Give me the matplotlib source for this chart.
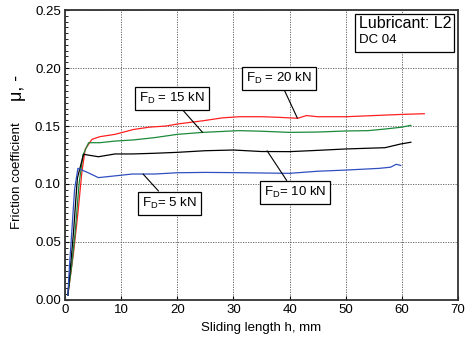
import matplotlib
matplotlib.use("Agg")
import matplotlib.pyplot as plt
from matplotlib.ticker import MultipleLocator, FormatStrFormatter

plt.rcParams['font.family'] = ['Liberation Sans', 'DejaVu Sans']
plt.rcParams['mathtext.fontset'] = 'custom'
plt.rcParams['mathtext.rm'] = 'Liberation Sans'
plt.rcParams['mathtext.it'] = 'Liberation Sans:italic'

# sliding length h (mm) and friction coefficient for each normal force
h_20 = [0.5, 1.5, 2.3, 3.0, 3.6, 4.8, 6.2, 8.9, 12.2, 15, 18, 20, 24.7, 28, 31,
        35, 38, 40, 41.5, 43, 45, 50, 55, 60, 64]
mu_20 = [0.004, 0.04, 0.075, 0.11, 0.130, 0.1385, 0.1408, 0.1428, 0.147, 0.149,
         0.150, 0.1517, 0.1546, 0.157, 0.158, 0.158, 0.1575, 0.157, 0.1567, 0.159,
         0.158, 0.158, 0.159, 0.160, 0.1606]

h_15 = [0.5, 1.2, 1.8, 2.5, 3.2, 4.2, 6.2, 8.9, 12.2, 16, 20, 24.5, 31, 35, 40,
        45, 50, 54, 57, 60, 61.6]
mu_15 = [0.004, 0.03, 0.0575, 0.10, 0.125, 0.1356, 0.1356, 0.137, 0.138, 0.140,
         0.1428, 0.1445, 0.146, 0.1455, 0.1445, 0.1448, 0.1457, 0.146, 0.1474,
         0.149, 0.1506]

h_10 = [0.5, 1.0, 1.5, 2.2, 3.3, 5.95, 8.9, 12, 16, 20, 25, 30, 35, 40, 45, 50,
        55, 57, 59.8, 61.6]
mu_10 = [0.004, 0.03, 0.0575, 0.105, 0.1256, 0.1235, 0.1259, 0.1259, 0.1265,
         0.1273, 0.1287, 0.1293, 0.128, 0.1279, 0.129, 0.1302, 0.131, 0.1313,
         0.1345, 0.136]

h_5 = [0.5, 0.8, 1.19, 1.7, 2.3, 4, 5.95, 8.9, 12, 16, 20, 25, 30, 35, 40, 45,
       50, 56, 58, 59, 59.8]
mu_5 = [0.004, 0.03, 0.0575, 0.095, 0.1135, 0.110, 0.1055, 0.107, 0.1086, 0.1086,
        0.1097, 0.110, 0.1098, 0.1095, 0.1092, 0.111, 0.112, 0.1135, 0.1145,
        0.117, 0.116]

fig = plt.figure(figsize=(4.66, 3.43), dpi=100)
ax = fig.add_axes([0.1395, 0.1254, 0.8433, 0.8454])

ax.plot(h_20, mu_20, color='#ff2020', lw=0.9)
ax.plot(h_15, mu_15, color='#1a8a3a', lw=0.9)
ax.plot(h_10, mu_10, color='black', lw=0.9)
ax.plot(h_5, mu_5, color='#3050c0', lw=0.9)

ax.set_xlim(0, 70)
ax.set_ylim(0, 0.25)
ax.xaxis.set_major_locator(MultipleLocator(10))
ax.yaxis.set_major_locator(MultipleLocator(0.05))
ax.yaxis.set_minor_locator(MultipleLocator(0.005))
ax.yaxis.set_major_formatter(FormatStrFormatter('%.2f'))
ax.tick_params(direction='in', labelsize=9.5, length=3, width=0.8, pad=3)
ax.tick_params(which='minor', direction='in', length=2, width=0.6)
ax.grid(True, linestyle=(0, (1.5, 1.5)), color='#555555', lw=0.6)
for sp in ax.spines.values():
    sp.set_linewidth(1.3)
    sp.set_color('#333333')

ax.set_xlabel('Sliding length h, mm', fontsize=9.5, labelpad=4)
fig.text(17 / 466, 1 - 176 / 343, 'Friction coefficient', rotation=90,
         fontsize=9.5, ha='center', va='center')
fig.text(17 / 466, 1 - 88 / 343, '\u03bc, -', rotation=90,
         fontsize=13, ha='center', va='center')

box = dict(boxstyle='square,pad=0.3', fc='white', ec='black', lw=0.9)
arrow = dict(arrowstyle='-', color='black', lw=0.8, shrinkA=0, shrinkB=0)
ax.annotate(r'F$_\mathrm{D}$ = 15 kN', xy=(24.5, 0.1445), xytext=(19.1, 0.174),
            ha='center', va='center', fontsize=9.5, bbox=box, arrowprops=arrow)
ax.annotate(r'F$_\mathrm{D}$ = 20 kN', xy=(41.4, 0.1567), xytext=(38.1, 0.191),
            ha='center', va='center', fontsize=9.5, bbox=box, arrowprops=arrow)
ax.annotate(r'F$_\mathrm{D}$= 10 kN', xy=(36, 0.1286), xytext=(40.9, 0.0927),
            ha='center', va='center', fontsize=9.5, bbox=box, arrowprops=arrow)
ax.annotate(r'F$_\mathrm{D}$= 5 kN', xy=(13.9, 0.1086), xytext=(18.6, 0.0836),
            ha='center', va='center', fontsize=9.5, bbox=box, arrowprops=arrow)

rect = plt.Rectangle((51.6, 0.2138), 17.7, 0.0328, fc='white', ec='black', lw=0.9,
                     transform=ax.transData, zorder=3)
ax.add_patch(rect)
ax.text(52.3, 0.2342, 'Lubricant: L2', fontsize=11.5, ha='left', va='baseline',
        zorder=4)
ax.text(52.3, 0.2216, 'DC 04', fontsize=9.5, ha='left', va='baseline', zorder=4)

fig.savefig('out.png', dpi=100)
